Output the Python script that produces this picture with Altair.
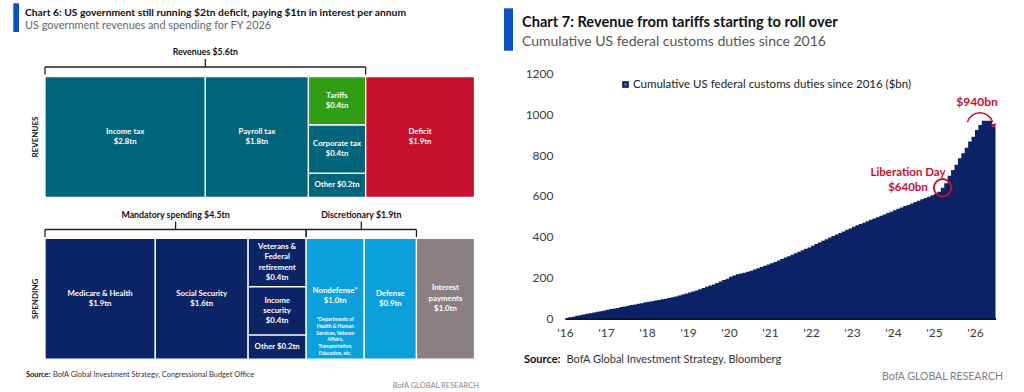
import altair as alt
import pandas as pd

FONT = "Lato"
NAVY = "#0b2266"
RED = "#c8102e"
ACCENT = "#0a50c8"

# ---------------------------------------------------------------
# Chart 6: US government revenues and spending, FY 2026 ($tn)
# ---------------------------------------------------------------
rev_items = ["Income tax", "Payroll tax", "Tariffs", "Corporate tax", "Other", "Deficit"]
rev_values = [2.8, 1.8, 0.4, 0.4, 0.2, 1.9]
rev_column = [0, 1, 2, 2, 2, 3]
rev_group = ["Tax", "Tax", "Tariffs", "Tax", "Tax", "Deficit"]
rev_labels = ["Income tax\n$2.8tn", "Payroll tax\n$1.8tn", "Tariffs\n$0.4tn",
              "Corporate tax\n$0.4tn", "Other $0.2tn", "Deficit\n$1.9tn"]

spend_items = ["Medicare & Health", "Social Security", "Veterans & Federal retirement",
               "Income security", "Other", "Nondefense", "Defense", "Interest payments"]
spend_values = [1.9, 1.6, 0.4, 0.4, 0.2, 1.0, 0.9, 1.0]
spend_column = [0, 1, 2, 2, 2, 3, 4, 5]
spend_group = ["Mandatory"] * 5 + ["Discretionary"] * 2 + ["Interest"]
spend_labels = ["Medicare & Health\n$1.9tn", "Social Security\n$1.6tn",
                "Veterans &\nFederal\nretirement\n$0.4tn", "Income\nsecurity\n$0.4tn",
                "Other $0.2tn", "Nondefense*\n$1.0tn", "Defense\n$0.9tn",
                "Interest\npayments\n$1.0tn"]
nondefense_note = ("*Departments of\nHealth & Human\nServices, Veteran\nAffairs,\n"
                   "Transportation,\nEducation, etc.")

group_domain = ["Tax", "Tariffs", "Deficit", "Mandatory", "Discretionary", "Interest"]
group_colors = ["#00657a", "#2f9e12", "#c8102e", "#0b2466", "#0aa0dc", "#8b7f81"]

# ---------------------------------------------------------------
# Chart 7: cumulative US federal customs duties since 2016 ($bn, monthly)
# ---------------------------------------------------------------
cum_2016 = [3, 6, 9, 13, 16, 19, 23, 26, 29, 33, 36, 39]
cum_2017 = [43, 46, 49, 52, 56, 59, 62, 66, 69, 72, 75, 79]
cum_2018 = [82, 85, 88, 91, 94, 97, 100, 104, 108, 112, 117, 122]
cum_2019 = [127, 132, 137, 143, 149, 155, 161, 167, 174, 181, 188, 195]
cum_2020 = [204, 210, 216, 220, 224, 229, 234, 240, 246, 252, 258, 264]
cum_2021 = [270, 277, 284, 291, 298, 305, 312, 319, 327, 334, 341, 348]
cum_2022 = [356, 364, 372, 380, 388, 396, 404, 411, 419, 426, 434, 441]
cum_2023 = [449, 456, 463, 469, 476, 483, 489, 496, 503, 509, 516, 523]
cum_2024 = [530, 537, 543, 550, 556, 563, 570, 576, 583, 590, 596, 603]
cum_2025 = [610, 620, 640, 662, 699, 727, 752, 784, 809, 836, 866, 890]
cum_2026 = [923, 947, 968, 968, 968, 940]
year_ticks = list(range(2016, 2027))
value_ticks = [0, 200, 400, 600, 800, 1000, 1200]
liberation_day = 2025 + 2.5 / 12   # month of the April 2025 tariff announcement
liberation_value = 640

# ---------------------------------------------------------------
# Treemap-style layout: columns side by side, items stacked in a column
# ---------------------------------------------------------------
ROW_GAP = 0.34  # gap between the revenue and spending rows, in row heights
LINE_H = 10.4   # line height of the box labels, px


def treemap_row(items, values, columns, groups, labels, row_top):
    df = pd.DataFrame({"item": items, "value": values, "col": columns,
                       "group": groups, "label": labels})
    total = df["value"].sum()
    col_tot = df.groupby("col")["value"].sum()
    col_start = col_tot.cumsum() - col_tot
    col_sum = df["col"].map(col_tot)
    df["x0"] = df["col"].map(col_start) / total
    df["x1"] = (df["col"].map(col_start) + col_sum) / total
    within = df.groupby("col")["value"].cumsum()
    df["y1"] = row_top + within / col_sum
    df["y0"] = df["y1"] - df["value"] / col_sum
    df["xc"] = (df["x0"] + df["x1"]) / 2
    df["yc"] = (df["y0"] + df["y1"]) / 2
    df["lines"] = df["label"].str.count("\n") + 1
    return df


rev = treemap_row(rev_items, rev_values, rev_column, rev_group, rev_labels, 0.0)
spend_top = 1.0 + ROW_GAP
spend = treemap_row(spend_items, spend_values, spend_column, spend_group, spend_labels, spend_top)
boxes = pd.concat([rev, spend], ignore_index=True)


def bracket(df, mask, name):
    sub = df[mask]
    return {"label": f"{name} ${sub['value'].sum():.1f}tn",
            "x0": sub["x0"].min(), "x1": sub["x1"].max(),
            "xm": (sub["x0"].min() + sub["x1"].max()) / 2}


rev_brackets = pd.DataFrame([bracket(rev, rev["group"] != "Deficit", "Revenues")])
spend_brackets = pd.DataFrame([
    bracket(spend, spend["group"] == "Mandatory", "Mandatory spending"),
    bracket(spend, spend["group"] == "Discretionary", "Discretionary"),
])
row_names = pd.DataFrame({"row": ["REVENUES", "SPENDING"], "yc": [0.5, spend_top + 0.5]})

x_left = alt.Scale(domain=[0, 1], range=[45, 474.5], nice=False, zero=False)
y_left = alt.Scale(domain=[0, spend_top + 1], range=[76.7, 359.2], nice=False, zero=False)

rects = alt.Chart(boxes).mark_rect(stroke="white", strokeWidth=1.3).encode(
    x=alt.X("x0:Q", scale=x_left, axis=None),
    x2="x1:Q",
    y=alt.Y("y0:Q", scale=y_left, axis=None),
    y2="y1:Q",
    color=alt.Color("group:N", scale=alt.Scale(domain=group_domain, range=group_colors), legend=None),
)


def box_label_layer(n_lines):
    # first line sits on the anchor, so lift the block by half its height
    return alt.Chart(boxes).transform_filter(
        f"datum.lines == {n_lines} && datum.item != 'Nondefense'"
    ).mark_text(
        color="white", font=FONT, fontSize=7.8, fontWeight="bold", lineBreak="\n",
        lineHeight=LINE_H, align="center", baseline="middle",
        dy=-(n_lines - 1) / 2 * LINE_H
    ).encode(x="xc:Q", y="yc:Q", text="label:N")


label_layers = [box_label_layer(n) for n in sorted(boxes["lines"].unique())]

nondef_text = alt.Chart(boxes).transform_filter(
    "datum.item == 'Nondefense'"
).mark_text(
    color="white", font=FONT, fontSize=7.8, fontWeight="bold", lineBreak="\n",
    lineHeight=LINE_H, align="center", baseline="middle", dy=-8
).encode(x="xc:Q", y="yc:Q", text="label:N")

nondef_note = alt.Chart(boxes).transform_filter(
    "datum.item == 'Nondefense'"
).mark_text(
    color="white", font=FONT, fontSize=5, fontWeight="bold", lineBreak="\n",
    lineHeight=6.7, align="center", baseline="middle", dy=20.5, text=nondefense_note
).encode(x="xc:Q", y="yc:Q")

row_text = alt.Chart(row_names).mark_text(
    angle=270, font=FONT, fontSize=8, fontWeight="bold", color="#111",
    align="center", baseline="middle"
).encode(x=alt.value(35.5), y="yc:Q", text="row:N")


def bracket_layers(df, y_bar):
    base = alt.Chart(df)
    bar = base.mark_rule(color="#222", strokeWidth=1.3).encode(
        x="x0:Q", x2="x1:Q", y=alt.value(y_bar))
    ends = base.transform_fold(["x0", "x1"], as_=["end", "xe"]).mark_rule(
        color="#222", strokeWidth=1.3).encode(
        x="xe:Q", y=alt.value(y_bar), y2=alt.value(y_bar + 7.5))
    mid = base.mark_rule(color="#222", strokeWidth=1.3).encode(
        x="xm:Q", y=alt.value(y_bar - 8), y2=alt.value(y_bar))
    lab = base.mark_text(font=FONT, fontSize=8.8, fontWeight="bold", color="#111",
                         align="center", baseline="middle").encode(
        x="xm:Q", y=alt.value(y_bar - 15), text="label:N")
    return [bar, ends, mid, lab]


left = alt.layer(
    rects, *label_layers, nondef_text, nondef_note, row_text,
    *bracket_layers(rev_brackets, 67), *bracket_layers(spend_brackets, 229.5)
)

# ---------------------------------------------------------------
# Right panel: monthly steps of the cumulative total
# ---------------------------------------------------------------
cum = (cum_2016 + cum_2017 + cum_2018 + cum_2019 + cum_2020 + cum_2021 +
       cum_2022 + cum_2023 + cum_2024 + cum_2025 + cum_2026)
# each month is held flat from its start to its end, giving a staircase outline
steps = pd.DataFrame(
    [{"t": 2016 + (k + edge) / 12, "cum": v} for k, v in enumerate(cum) for edge in (0, 1)]
)

x_right = alt.X(
    "t:Q",
    scale=alt.Scale(domain=[2016, 2026.5], range=[565, 995.5], nice=False, zero=False),
    axis=alt.Axis(orient="bottom", offset=-73.5, values=year_ticks,
                  labelExpr="\"'\" + substring(toString(datum.value), 2, 4)",
                  title=None, grid=False, ticks=False, domainColor="#111", domainWidth=2,
                  labelFont=FONT, labelFontSize=12, labelColor="#3a3a3a", labelPadding=9,
                  labelFlush=False, labelOverlap=False),
)
y_right = alt.Y(
    "cum:Q", stack=None,
    scale=alt.Scale(domain=[0, 1200], range=[318.5, 73.3], nice=False, zero=False),
    axis=alt.Axis(orient="left", offset=-565, values=value_ticks, format="d", title=None,
                  grid=False, ticks=False, domain=False, labelFont=FONT, labelFontSize=12,
                  labelColor="#3a3a3a", labelPadding=12),
)

area = alt.Chart(steps).mark_area(color=NAVY, opacity=1, interpolate="linear").encode(
    x=x_right, y=y_right
)
ring = alt.Chart(pd.DataFrame({"t": [liberation_day], "cum": [liberation_value]})).mark_point(
    shape="circle", filled=False, size=300, strokeWidth=2, color=RED, opacity=1
).encode(x="t:Q", y="cum:Q")

right = alt.layer(area, ring)

# ---------------------------------------------------------------
# Titles, sources and annotations
# ---------------------------------------------------------------
ONE = alt.Data(values=[{}])


def note(text, x, y, size, weight="normal", color="#111", align="left", baseline="middle"):
    return alt.Chart(ONE).mark_text(
        text=text, font=FONT, fontSize=size, fontWeight=weight, color=color,
        align=align, baseline=baseline
    ).encode(x=alt.value(x), y=alt.value(y))


def bar(x0, x1, y0, y1, color):
    return alt.Chart(ONE).mark_rect(color=color).encode(
        x=alt.value(x0), x2=alt.value(x1), y=alt.value(y0), y2=alt.value(y1))


annots = [
    bar(13.3, 19, 3.3, 32, ACCENT),
    note("Chart 6: US government still running $2tn deficit, paying $1tn in interest per annum",
         25, 16, 10.3, "bold", baseline="alphabetic"),
    note("US government revenues and spending for FY 2026", 25, 28.5, 10.9, color="#666",
         baseline="alphabetic"),
    note("Source:", 26, 375, 7.4, "bold"),
    note("BofA Global Investment Strategy, Congressional Budget Office", 53, 375, 7.4, color="#333"),
    note("BofA GLOBAL RESEARCH", 479, 385.7, 7.5, color="#888", align="right"),

    bar(504, 513, 8.3, 50.7, ACCENT),
    note("Chart 7: Revenue from tariffs starting to roll over", 522, 26.5, 14.6, "bold",
         baseline="alphabetic"),
    note("Cumulative US federal customs duties since 2016", 522, 46, 14, color="#555",
         baseline="alphabetic"),
    alt.Chart(ONE).mark_square(size=45, color=NAVY, opacity=1).encode(
        x=alt.value(625.5), y=alt.value(84.5)),
    alt.Chart(ONE).mark_square(size=5, color="#5b7fd6", opacity=1).encode(
        x=alt.value(625.5), y=alt.value(84.5)),
    note("Cumulative US federal customs duties since 2016 ($bn)", 633, 84.5, 11.5, color="#222"),
    note("$940bn", 977, 102, 12, "bold", color=RED, align="center"),
    alt.Chart(ONE).mark_arc(theta=5.01, theta2=7.55, radius=14, radius2=12.4, color=RED).encode(
        x=alt.value(980), y=alt.value(126)),
    alt.Chart(ONE).mark_point(shape="triangle-down", filled=True, size=30, angle=350,
                              color=RED, opacity=1).encode(
        x=alt.value(994), y=alt.value(126)),
    note("Liberation Day", 908, 173, 11.5, "bold", color=RED, align="center"),
    note("$640bn", 908, 187.5, 11.5, "bold", color=RED, align="center"),
    note("Source:", 524, 360, 11, "bold"),
    note("BofA Global Investment Strategy, Bloomberg", 566.5, 360, 11, color="#333"),
    note("BofA GLOBAL RESEARCH", 1003, 376.7, 10.5, color="#808080", align="right"),
]

chart = alt.layer(left, right, *annots).resolve_scale(
    x="independent", y="independent"
).properties(
    width=1024, height=392, padding=0,
    autosize=alt.AutoSizeParams(type="none"), background="white"
).configure_view(stroke=None)

chart.save("out.html", embed_options={"renderer": "svg", "actions": False})
